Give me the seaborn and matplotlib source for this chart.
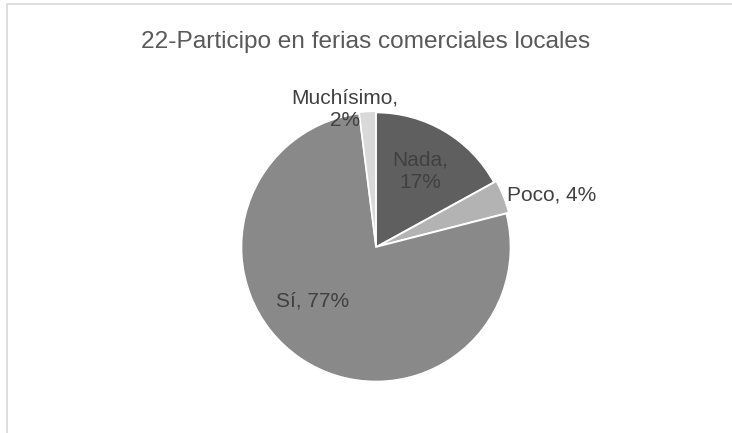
import numpy as np
import matplotlib.pyplot as plt
import seaborn as sns
from matplotlib.lines import Line2D

# DATA
categories = ['Nada', 'Poco', 'Sí', 'Muchísimo']
percents = [17, 4, 77, 2]
title = '22-Participo en ferias comerciales locales'

# STYLE
colors = ['#5f5f5f', '#b3b3b3', '#898989', '#d9d9d9']
explode = [0, 0.02, 0, 0.01]
# label anchors in pie-radius units, with alignment
label_pos = [(0.33, 0.565, 'center'), (0.975, 0.39, 'left'),
             (-0.47, -0.40, 'center'), (-0.23, 1.025, 'center')]
label_lines = [True, False, False, True]

sns.set_theme(style='white')
plt.rcParams['font.family'] = ['Liberation Sans', 'DejaVu Sans']

fig = plt.figure(figsize=(7.32, 4.33), dpi=100)
ax = fig.add_axes([107 / 732, 16 / 433, 538 / 732, 340 / 433])

wedges, _ = ax.pie(percents, colors=colors, startangle=90, counterclock=False,
                   explode=explode, radius=1,
                   wedgeprops=dict(edgecolor='white', linewidth=1.2))
ax.set_xlim(-2, 2)
ax.set_ylim(-170 / 134.5, 170 / 134.5)
ax.set_aspect('auto')
for w in wedges:
    w.set_clip_on(False)

for cat, pct, (lx, ly, ha), two in zip(categories, percents, label_pos, label_lines):
    sep = ',\n' if two else ', '
    ax.text(lx, ly, f'{cat}{sep}{pct}%', ha=ha, va='center', fontsize=15,
            color='#404040', linespacing=1.25, multialignment='center')

fig.text(0.5, (433 - 48) / 433, title, ha='center', va='baseline',
         fontsize=17.6, color='#595959')

# chart frame (only left/top visible in the crop)
fig.add_artist(Line2D([7.5 / 732, 7.5 / 732, 1], [0, (433 - 3.5) / 433, (433 - 3.5) / 433],
                      color='#d9d9d9', lw=1.2, transform=fig.transFigure))

plt.savefig('out.png', dpi=100)
